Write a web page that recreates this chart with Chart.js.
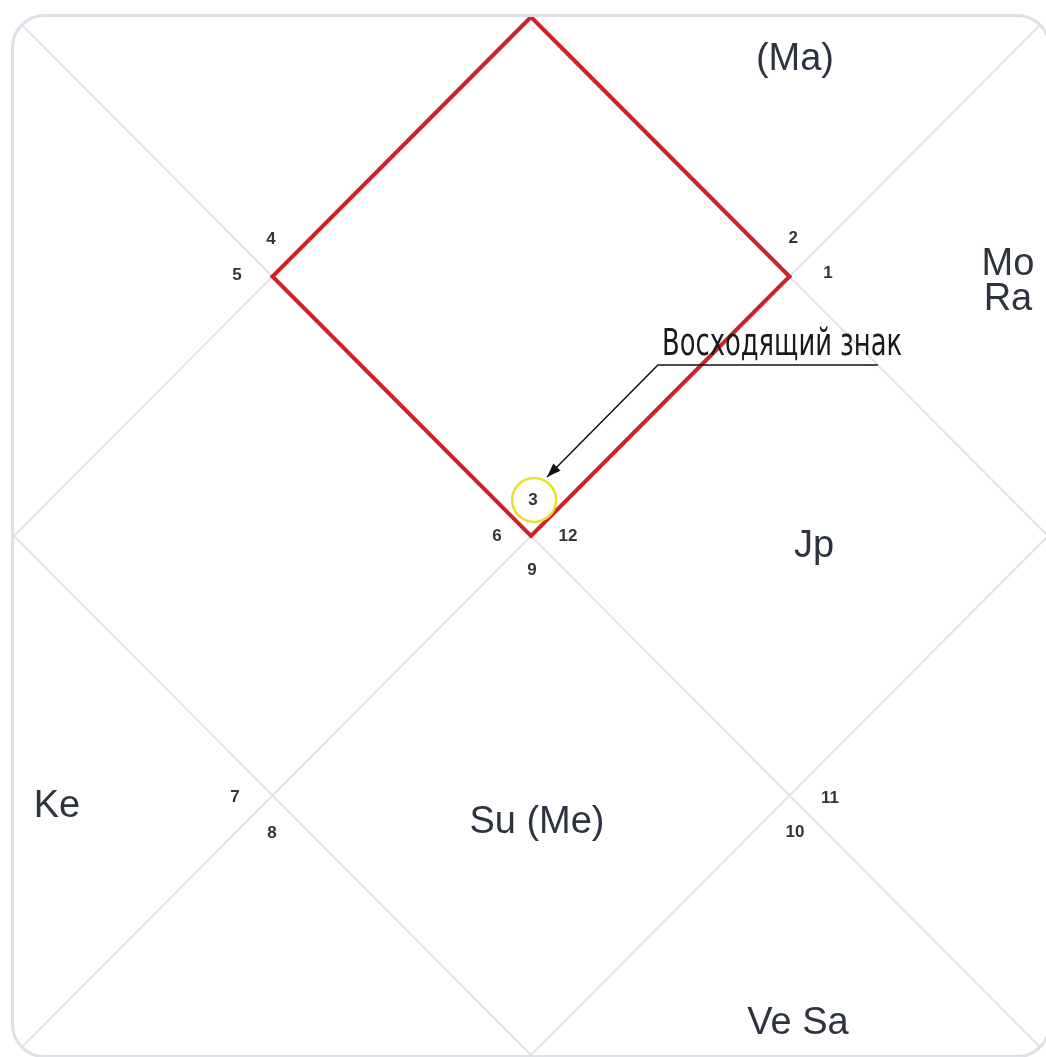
<!DOCTYPE html>
<html>
<head>
<meta charset="utf-8">
<script src="https://cdn.jsdelivr.net/npm/chart.js@4.4.1/dist/chart.umd.min.js"></script>
<style>
    html, body { margin: 0; padding: 0; background: #fff; overflow: hidden; }
    #wrap { position: absolute; left: 0; top: 0; width: 1046px; height: 1057px; }
</style>
</head>
<body>
<div id="wrap"><canvas id="chart"></canvas></div>
<script>
// chart grid lives in 0..4 on both axes, y runs downward
const xRange = [-0.0542, 3.9923];
const yRange = [-0.0655, 4.0077];

const crossA = [[0, 0], [4, 4]];
const crossB = [[4, 0], [0, 4]];
const innerDiamond = [[2, 0], [4, 2], [2, 4], [0, 2], [2, 0]];
const ascHouse = [[2, 0], [3, 1], [2, 2], [1, 1], [2, 0]];

// sign numbers
const signNumbers = ["4", "5", "2", "1", "3", "6", "12", "9", "7", "8", "11", "10"];
const signX = [0.994, 0.863, 3.014, 3.149, 2.008, 1.868, 2.143, 2.004, 0.855, 0.998, 3.157, 3.021];
const signY = [0.855, 0.994, 0.852, 0.987, 1.861, 2.0, 2.0, 2.131, 3.006, 3.145, 3.010, 3.141];

// planets
const planetLabels = ["(Ma)", "Mo", "Ra", "Jp", "Ke", "Su (Me)", "Ve Sa"];
const planetX = [3.021, 3.845, 3.845, 3.095, 0.166, 2.023, 3.033];
const planetY = [0.163, 0.955, 1.088, 2.040, 3.044, 3.106, 3.878];

// ascendant marker + callout
const ascMarker = [2.012, 1.861];
const calloutText = "Восходящий знак";
const calloutPos = [2.507, 1.3025];
const calloutLine = [[3.342, 1.341], [2.491, 1.341], [2.062, 1.773]];

const toPts = arr => arr.map(p => ({ x: p[0], y: p[1] }));

// order: higher number is drawn first (underneath)
function lineSet(points, color, width, order) {
    return {
        type: 'line',
        order,
        data: toPts(points),
        borderColor: color,
        backgroundColor: color,
        borderWidth: width,
        pointRadius: 0,
        pointHoverRadius: 0,
        tension: 0,
        fill: false,
        borderJoinStyle: 'miter',
        borderCapStyle: 'butt'
    };
}

function framePath(ctx, x, y) {
    const l = x.getPixelForValue(0) - 1.5, t = y.getPixelForValue(0) - 1.5;
    const r = x.getPixelForValue(4) + 1.5, b = y.getPixelForValue(4) + 1.5;
    ctx.beginPath();
    ctx.roundRect(l, t, r - l, b - t, 32);
}

// 🖌️ frame, clipping, text, arrowhead
const chartDecor = {
    id: 'chartDecor',
    beforeDatasetsDraw(chart) {
        const { ctx, scales: { x, y } } = chart;
        ctx.save();
        framePath(ctx, x, y);
        ctx.clip();
        ctx.beginPath();
    },
    afterDatasetsDraw(chart) {
        const { ctx, scales: { x, y } } = chart;
        ctx.restore();

        ctx.save();
        framePath(ctx, x, y);
        ctx.strokeStyle = '#dde0e7';
        ctx.lineWidth = 3;
        ctx.stroke();

        // arrowhead
        const n = calloutLine.length;
        const px = x.getPixelForValue(calloutLine[n - 1][0]), py = y.getPixelForValue(calloutLine[n - 1][1]);
        const qx = x.getPixelForValue(calloutLine[n - 2][0]), qy = y.getPixelForValue(calloutLine[n - 2][1]);
        const ang = Math.atan2(py - qy, px - qx);
        ctx.fillStyle = '#111';
        ctx.beginPath();
        ctx.moveTo(px, py);
        ctx.lineTo(px - 14 * Math.cos(ang) + 5 * Math.sin(ang), py - 14 * Math.sin(ang) - 5 * Math.cos(ang));
        ctx.lineTo(px - 14 * Math.cos(ang) - 5 * Math.sin(ang), py - 14 * Math.sin(ang) + 5 * Math.cos(ang));
        ctx.closePath();
        ctx.fill();

        ctx.textAlign = 'center';
        ctx.textBaseline = 'middle';

        ctx.font = 'bold 17px "Liberation Sans", Arial, sans-serif';
        ctx.fillStyle = '#353535';
        signNumbers.forEach((s, i) => {
            ctx.fillText(s, x.getPixelForValue(signX[i]), y.getPixelForValue(signY[i]));
        });

        ctx.font = '38px "Liberation Sans", Arial, sans-serif';
        ctx.fillStyle = '#2d3440';
        planetLabels.forEach((s, i) => {
            ctx.fillText(s, x.getPixelForValue(planetX[i]), y.getPixelForValue(planetY[i]));
        });

        ctx.textAlign = 'left';
        ctx.textBaseline = 'alphabetic';
        ctx.font = '38px "Liberation Sans Narrow", "DejaVu Sans Condensed", sans-serif';
        ctx.fillStyle = '#1a1a1a';
        ctx.fillText(calloutText, x.getPixelForValue(calloutPos[0]), y.getPixelForValue(calloutPos[1]), 240);
        ctx.restore();
    }
};

window.onload = () => {
    const ctx = document.getElementById('chart').getContext('2d');

    new Chart(ctx, {
        type: 'scatter',
        data: {
            datasets: [
                lineSet(crossA, '#e3e4ea', 2, 5),
                lineSet(crossB, '#e3e4ea', 2, 5),
                lineSet(innerDiamond, '#e3e4ea', 2, 5),
                lineSet(ascHouse, '#cc2228', 4, 3),
                {
                    type: 'scatter',
                    order: 2,
                    data: toPts([ascMarker]),
                    pointRadius: 22,
                    pointHoverRadius: 22,
                    pointBorderWidth: 2.5,
                    pointBorderColor: '#e6e22c',
                    pointBackgroundColor: 'rgba(0,0,0,0)'
                },
                lineSet(calloutLine, '#111', 1.5, 1)
            ]
        },
        options: {
            responsive: true,
            maintainAspectRatio: false,
            animation: false,
            events: [],
            layout: { padding: 0, autoPadding: false },
            plugins: {
                legend: { display: false },
                tooltip: { enabled: false }
            },
            scales: {
                x: { type: 'linear', min: xRange[0], max: xRange[1], display: false },
                y: { type: 'linear', min: yRange[0], max: yRange[1], reverse: true, display: false }
            }
        },
        plugins: [chartDecor]
    });
};
</script>
</body>
</html>
